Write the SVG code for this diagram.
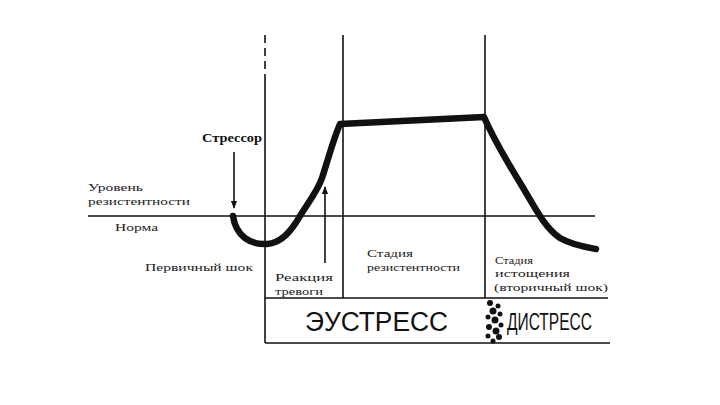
<svg xmlns="http://www.w3.org/2000/svg" width="720" height="405" viewBox="0 0 720 405">
<style>
.ln{stroke:#111;stroke-width:1.6;fill:none}
.cv{stroke:#111;stroke-width:6.5;fill:none;stroke-linejoin:round;stroke-linecap:round}
.t{font-family:"Liberation Serif",serif;font-size:11px;fill:#222}
.tb{font-family:"Liberation Serif",serif;font-size:12px;font-weight:bold;fill:#111}
.big{font-family:"Liberation Sans",Arial,sans-serif;fill:#111}
</style>
<defs>
<marker id="ah" viewBox="0 0 10 10" refX="9" refY="5" markerWidth="5" markerHeight="6" orient="auto"><path d="M0,1 L10,5 L0,9 Z" fill="#111"/></marker>
</defs>
<rect width="720" height="405" fill="#fff"/>
<g id="axes">
<line class="ln" x1="88" y1="216" x2="595" y2="216"/>
<line class="ln" x1="265" y1="35" x2="265" y2="80" stroke-dasharray="8,5"/>
<line class="ln" x1="265" y1="80" x2="265" y2="343"/>
<line class="ln" x1="343" y1="35" x2="343" y2="298"/>
<line class="ln" x1="485" y1="35" x2="485" y2="298"/>
<line class="ln" x1="265" y1="298" x2="608" y2="298"/>
<line class="ln" x1="265" y1="343" x2="610" y2="343"/>
</g>
<g id="curve">
<path class="cv" d="M233,216 C236,236 250,245 267,244 C282,243 292,230 300,216 C310,200 318,190 322,178 C328,160 333,140 340,124 L484,117 C494,140 506,160 522,186 C535,208 545,228 560,238 C572,245 585,247 596,249"/>
</g>
<g id="connectors">
<line class="ln" x1="234" y1="152" x2="234" y2="208" stroke-width="2" marker-end="url(#ah)"/>
<line class="ln" x1="325" y1="263" x2="325" y2="187" stroke-width="1.4" marker-end="url(#ah)"/>
</g>
<g id="stressor"><text class="tb" x="202" y="142" textLength="60" lengthAdjust="spacingAndGlyphs">Стрессор</text></g>
<g id="level"><text class="t" x="88" y="191" textLength="55" lengthAdjust="spacingAndGlyphs">Уровень</text><text class="t" x="88" y="205" textLength="102" lengthAdjust="spacingAndGlyphs">резистентности</text></g>
<g id="norm"><text class="t" x="115" y="231" textLength="43" lengthAdjust="spacingAndGlyphs">Норма</text></g>
<g id="primary"><text class="t" x="145" y="271" textLength="108" lengthAdjust="spacingAndGlyphs">Первичный  шок</text></g>
<g id="alarm"><text class="t" x="275" y="281" textLength="58" lengthAdjust="spacingAndGlyphs">Реакция</text><text class="t" x="275" y="295" textLength="48" lengthAdjust="spacingAndGlyphs">тревоги</text></g>
<g id="resist"><text class="t" x="367" y="257" textLength="46" lengthAdjust="spacingAndGlyphs">Стадия</text><text class="t" x="367" y="271" textLength="93" lengthAdjust="spacingAndGlyphs">резистентности</text></g>
<g id="exhaust"><text class="t" x="495" y="264" textLength="38" lengthAdjust="spacingAndGlyphs">Стадия</text><text class="t" x="495" y="277" textLength="75" lengthAdjust="spacingAndGlyphs">истощения</text><text class="t" x="494" y="291" textLength="114" lengthAdjust="spacingAndGlyphs">(вторичный  шок)</text></g>
<g id="eustress"><text class="big" x="305" y="331" font-size="27" textLength="143" lengthAdjust="spacingAndGlyphs">ЭУСТРЕСС</text></g>
<g id="dots" fill="#111">
<circle cx="490" cy="303" r="3"/><circle cx="498" cy="306" r="2.5"/><circle cx="493" cy="311" r="3.5"/><circle cx="500" cy="314" r="2.5"/><circle cx="488" cy="317" r="2.5"/><circle cx="495" cy="320" r="3.5"/><circle cx="501" cy="325" r="2.5"/><circle cx="489" cy="327" r="3"/><circle cx="496" cy="331" r="3.5"/><circle cx="488" cy="336" r="2.5"/><circle cx="499" cy="337" r="3"/><circle cx="493" cy="341" r="2.5"/>
</g>
<g id="distress"><text class="big" x="507" y="330" font-size="23" textLength="85" lengthAdjust="spacingAndGlyphs">ДИСТРЕСС</text></g>
</svg>
